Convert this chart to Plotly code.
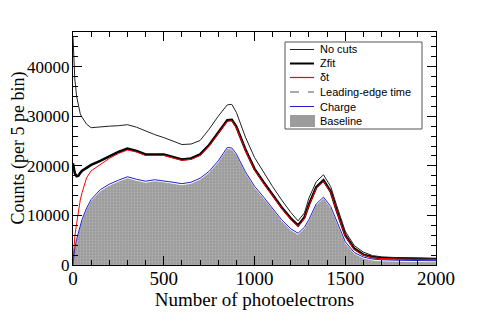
"""Photoelectron spectra with different cuts."""
import plotly.graph_objects as go

# bin centres (number of photoelectrons)
npe = [0, 5, 10, 20, 30, 40, 50, 75, 100, 150, 200, 250, 300, 350, 400, 450,
       500, 550, 600, 650, 700, 750, 800, 850, 875, 900, 950, 1000, 1050,
       1100, 1150, 1200, 1240, 1275, 1300, 1340, 1380, 1420, 1450, 1500,
       1550, 1600, 1650, 1700, 1800, 1900, 2000]

no_cuts = [46000, 42000, 37500, 34000, 32000, 30500, 29800, 28400, 27700,
           27900, 28000, 28100, 28300, 27800, 27000, 26300, 25700, 25000,
           24300, 24400, 25100, 27400, 30000, 32300, 32400, 30800, 25800,
           21700, 18700, 15800, 13100, 10600, 8900, 10500, 13500, 16800,
           18200, 15800, 12300, 6800, 3900, 2600, 1900, 1650, 1450, 1350, 1270]

zfit = [20500, 19500, 18500, 17900, 18000, 18600, 19000, 19600, 20200,
        21000, 21900, 22800, 23500, 23000, 22300, 22300, 22300, 21800,
        21300, 21500, 22300, 24200, 26800, 29200, 29300, 27900, 23300,
        19400, 16700, 14100, 11600, 9400, 8000, 9600, 12200, 15700, 17100,
        14800, 11300, 6000, 3300, 2100, 1600, 1400, 1300, 1250, 1200]

delta_t = [500, 3700, 5800, 8400, 11000, 13100, 14600, 17600, 19000, 20300,
           21500, 22500, 23200, 22800, 22100, 22100, 22100, 21600, 21100,
           21300, 22100, 24000, 26600, 29000, 29100, 27700, 23100, 19200,
           16500, 13900, 11400, 9200, 7800, 9400, 12000, 15500, 16900, 14600,
           11100, 5800, 3100, 2000, 1500, 1300, 1200, 1150, 1100]

leading_edge = [20500, 19500, 18500, 17900, 18000, 18600, 19000, 19600,
                20200, 21000, 21900, 22800, 23500, 23000, 22300, 22300,
                22300, 21800, 21300, 21500, 22300, 24200, 26800, 29200,
                29300, 27900, 23300, 19400, 16700, 14100, 11600, 9400, 8000,
                9600, 12200, 15700, 17100, 14800, 11300, 6000, 3300, 2100,
                1600, 1400, 1300, 1250, 1200]

charge = [0, 2000, 3500, 5200, 6500, 8000, 9200, 11500, 13200, 15200, 16300,
          17100, 17800, 17300, 16900, 17200, 17000, 16700, 16400, 16700,
          17500, 18900, 21000, 23700, 23600, 22400, 18800, 15900, 13700,
          11500, 9100, 7300, 6400, 7600, 9200, 12300, 13700, 11800, 9000,
          4700, 2500, 1600, 1200, 1050, 950, 900, 850]

baseline = [0, 1700, 3200, 4900, 6200, 7700, 8900, 11200, 12900, 14900,
            16000, 16800, 17500, 17000, 16600, 16900, 16700, 16400, 16100,
            16400, 17200, 18600, 20700, 23400, 23300, 22100, 18500, 15600,
            13400, 11200, 8800, 7000, 6100, 7300, 8900, 12000, 13400, 11500,
            8700, 4400, 2200, 1300, 900, 750, 650, 600, 550]

legend_labels = ["No cuts", "Zfit", "\u03b4t", "Leading-edge time", "Charge",
                 "Baseline"]

serif = "Liberation Serif, Times New Roman, serif"
sans = "Liberation Sans, Arial, sans-serif"

FILL = "#9c9c9c"
pattern = dict(shape=".", bgcolor=FILL, fgcolor="#c4c4c4", size=3,
               solidity=0.3)

# the page body has an 8px margin, so the figure is drawn 8px in and down
OFF = 8
# plot area in window pixels (used only for placing the hand-made legend)
L, T, W, H = 73, 32, 363, 233


def px(xp):
    return (xp - L) / W


def py(yp):
    return (T + H - yp) / H


fig = go.Figure()

fig.add_trace(go.Scatter(
    x=npe, y=baseline, name="Baseline", mode="none", fill="tozeroy",
    fillcolor=FILL, fillpattern=pattern
))
fig.add_trace(go.Scatter(
    x=npe, y=charge, name="Charge", mode="lines",
    line=dict(color="#2020d0", width=1)
))
fig.add_trace(go.Scatter(
    x=npe, y=leading_edge, name="Leading-edge time", mode="lines",
    line=dict(color="#555555", width=1, dash="dash")
))
fig.add_trace(go.Scatter(
    x=npe, y=zfit, name="Zfit", mode="lines",
    line=dict(color="black", width=2.5)
))
fig.add_trace(go.Scatter(
    x=npe, y=delta_t, name="\u03b4t", mode="lines",
    line=dict(color="#ff0000", width=1)
))
fig.add_trace(go.Scatter(
    x=npe, y=no_cuts, name="No cuts", mode="lines",
    line=dict(color="#222222", width=1)
))

axis_common = dict(
    showline=True, linecolor="black", linewidth=1, mirror="ticks",
    ticks="inside", ticklen=9, tickcolor="black", showgrid=False,
    zeroline=False, automargin=False,
)

fig.update_xaxes(
    range=[0, 2000], tickvals=[0, 500, 1000, 1500, 2000],
    minor=dict(dtick=100, ticks="inside", ticklen=5, tickcolor="black"),
    ticklabelstandoff=-4,
    tickfont=dict(family=serif, size=19, color="black"),
    title=dict(text="Number of photoelectrons", standoff=0,
               font=dict(family=serif, size=19, color="black")),
    **axis_common
)
fig.update_yaxes(
    range=[0, 47000], tickvals=[0, 10000, 20000, 30000, 40000],
    tickformat="d", ticklabelstandoff=-1,
    tickfont=dict(family=serif, size=17, color="black"),
    minor=dict(dtick=2000, ticks="inside", ticklen=5, tickcolor="black"),
    **axis_common
)

# y-axis title placed by hand so it sits clear of the wide tick labels
fig.add_annotation(xref="paper", yref="paper", x=px(17.5), y=py(148),
                   text="Counts (per 5 pe bin)", textangle=-90,
                   showarrow=False, xanchor="center", yanchor="middle",
                   font=dict(family=serif, size=18, color="black"))

# hand-made legend (plotly's own rows are too tall for this chart)
fig.add_shape(type="rect", xref="paper", yref="paper",
              x0=px(285), x1=px(422), y0=py(129), y1=py(42),
              line=dict(color="#555555", width=1), fillcolor="white",
              layer="above")
row_y = [49.5, 63.5, 77.5, 92, 106.5, 121]
styles = [dict(color="#222222", width=1), dict(color="black", width=2),
          dict(color="#ff0000", width=1.2),
          dict(color="#555555", width=1, dash="dash"),
          dict(color="#2020d0", width=1)]
for yy, style in zip(row_y[:5], styles):
    fig.add_shape(type="line", xref="paper", yref="paper",
                  x0=px(290), x1=px(314), y0=py(yy), y1=py(yy),
                  line=style, layer="above")
fig.add_shape(type="rect", xref="paper", yref="paper",
              x0=px(290), x1=px(315), y0=py(127), y1=py(115),
              line=dict(width=0), fillcolor=FILL, layer="above")
for yy, label in zip(row_y, legend_labels):
    fig.add_annotation(xref="paper", yref="paper", x=px(318), y=py(yy),
                       text=label, showarrow=False, xanchor="left",
                       yanchor="middle",
                       font=dict(family=sans, size=11, color="black"))

fig.update_layout(
    width=485 - OFF, height=332 - OFF,
    margin=dict(l=L - OFF, r=485 - L - W, t=T - OFF, b=332 - T - H),
    plot_bgcolor="white", paper_bgcolor="white",
    showlegend=False,
)

fig.write_html("out.html")
